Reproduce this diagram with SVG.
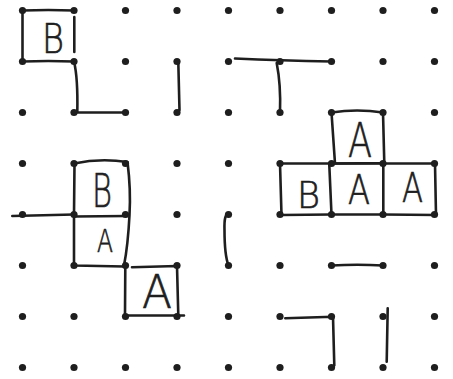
<svg xmlns="http://www.w3.org/2000/svg" width="453" height="379" viewBox="0 0 453 379">
<style>
.ln{fill:none;stroke:#1e1e1e;stroke-width:2.6;stroke-linecap:round;stroke-linejoin:round}
.dot{fill:#1e1e1e}
.lt{font-family:"DejaVu Sans","Liberation Sans",Arial,sans-serif;font-weight:200;fill:#1e1e1e;stroke:#1e1e1e;stroke-width:0.7;text-anchor:start}
</style>
<defs>
<circle id="d" r="3.6" class="dot"/>
</defs>
<g id="connectors">
<path class="ln" d="M22.5,10.5 Q48,9.5 74,10.5"/>
<path class="ln" d="M22.5,10.5 L22.5,61.5"/>
<path class="ln" d="M22.5,61.5 Q48,60.5 74,61.5"/>
<path class="ln" d="M74.3,17 L74.3,52"/>
<path class="ln" d="M74,61.5 Q78,78 77.3,112.5 L125.5,112.5"/>
<path class="ln" d="M178.3,62 L179.5,110 L177,112.5"/>
<path class="ln" d="M235,58.5 Q280,60.5 331.5,61.5"/>
<path class="ln" d="M276.7,63 Q281,85 280,112.5"/>
<path class="ln" d="M331.5,112.5 Q357,108.5 383,112.5 L384.3,163 L335,163.5 L331.5,112.5"/>
<path class="ln" d="M280,163.5 L435,163.5 L436,215 L383,214.5 L331.5,214.5 L281.5,215 L280,163.5"/>
<path class="ln" d="M329.3,165 L331.5,214.5"/>
<path class="ln" d="M383.3,162 L383.3,214.5"/>
<path class="ln" d="M12.3,216 L74,214.5"/>
<path class="ln" d="M74,163.5 Q100,158 127.5,162 Q131,190 129.5,215 Q128,245 124,265.5"/>
<path class="ln" d="M74.5,163.5 L74,214.5 L74,265.5 L124,266.5"/>
<path class="ln" d="M74,216.5 L127,216"/>
<path class="ln" d="M125.3,266 L125,315.5 L184,315.5"/>
<path class="ln" d="M132,267.3 L177,266 L178.3,315.5"/>
<path class="ln" d="M228.5,214.5 Q224,213 224.5,230 Q224.5,255 228.5,265.5"/>
<path class="ln" d="M331.5,265.5 Q357,264 383,265.5"/>
<path class="ln" d="M285.3,318.3 L333,316.8 L334.3,365.5 L331.5,367.5"/>
<path class="ln" d="M387.7,308.3 L386.7,361.7"/>
</g>
<g id="dots">
<g id="row0"><use href="#d" x="22.5" y="10.5"/><use href="#d" x="74" y="10.5"/><use href="#d" x="125.5" y="10.5"/><use href="#d" x="177" y="10.5"/><use href="#d" x="228.5" y="10.5"/><use href="#d" x="280" y="10.5"/><use href="#d" x="331.5" y="10.5"/><use href="#d" x="383" y="10.5"/><use href="#d" x="434.5" y="10.5"/></g>
<g id="row1"><use href="#d" x="22.5" y="61.5"/><use href="#d" x="74" y="61.5"/><use href="#d" x="125.5" y="61.5"/><use href="#d" x="177" y="61.5"/><use href="#d" x="228.5" y="61.5"/><use href="#d" x="280" y="61.5"/><use href="#d" x="331.5" y="61.5"/><use href="#d" x="383" y="61.5"/><use href="#d" x="434.5" y="61.5"/></g>
<g id="row2"><use href="#d" x="22.5" y="112.5"/><use href="#d" x="74" y="112.5"/><use href="#d" x="125.5" y="112.5"/><use href="#d" x="177" y="112.5"/><use href="#d" x="228.5" y="112.5"/><use href="#d" x="280" y="112.5"/><use href="#d" x="331.5" y="112.5"/><use href="#d" x="383" y="112.5"/><use href="#d" x="434.5" y="112.5"/></g>
<g id="row3"><use href="#d" x="22.5" y="163.5"/><use href="#d" x="74" y="163.5"/><use href="#d" x="125.5" y="163.5"/><use href="#d" x="177" y="163.5"/><use href="#d" x="228.5" y="163.5"/><use href="#d" x="280" y="163.5"/><use href="#d" x="331.5" y="163.5"/><use href="#d" x="383" y="163.5"/><use href="#d" x="434.5" y="163.5"/></g>
<g id="row4"><use href="#d" x="22.5" y="214.5"/><use href="#d" x="74" y="214.5"/><use href="#d" x="125.5" y="214.5"/><use href="#d" x="177" y="214.5"/><use href="#d" x="228.5" y="214.5"/><use href="#d" x="280" y="214.5"/><use href="#d" x="331.5" y="214.5"/><use href="#d" x="383" y="214.5"/><use href="#d" x="434.5" y="214.5"/></g>
<g id="row5"><use href="#d" x="22.5" y="265.5"/><use href="#d" x="74" y="265.5"/><use href="#d" x="125.5" y="265.5"/><use href="#d" x="177" y="265.5"/><use href="#d" x="228.5" y="265.5"/><use href="#d" x="280" y="265.5"/><use href="#d" x="331.5" y="265.5"/><use href="#d" x="383" y="265.5"/><use href="#d" x="434.5" y="265.5"/></g>
<g id="row6"><use href="#d" x="22.5" y="316.5"/><use href="#d" x="74" y="316.5"/><use href="#d" x="125.5" y="316.5"/><use href="#d" x="177" y="316.5"/><use href="#d" x="228.5" y="316.5"/><use href="#d" x="280" y="316.5"/><use href="#d" x="331.5" y="316.5"/><use href="#d" x="383" y="316.5"/><use href="#d" x="434.5" y="316.5"/></g>
<g id="row7"><use href="#d" x="22.5" y="367.5"/><use href="#d" x="74" y="367.5"/><use href="#d" x="125.5" y="367.5"/><use href="#d" x="177" y="367.5"/><use href="#d" x="228.5" y="367.5"/><use href="#d" x="280" y="367.5"/><use href="#d" x="331.5" y="367.5"/><use href="#d" x="383" y="367.5"/><use href="#d" x="434.5" y="367.5"/></g>
</g>
<g id="node-B1"><text class="lt" x="42" y="53" font-size="40" textLength="22" lengthAdjust="spacingAndGlyphs">B</text></g>
<g id="node-B2"><text class="lt" x="92" y="207" font-size="46" textLength="20" lengthAdjust="spacingAndGlyphs">B</text></g>
<g id="node-A1"><text class="lt" x="97" y="252" font-size="32" textLength="16" lengthAdjust="spacingAndGlyphs">A</text></g>
<g id="node-A2"><text class="lt" x="142" y="308" font-size="46" textLength="30" lengthAdjust="spacingAndGlyphs">A</text></g>
<g id="node-A3"><text class="lt" x="348" y="157" font-size="48" textLength="24" lengthAdjust="spacingAndGlyphs">A</text></g>
<g id="node-B3"><text class="lt" x="297" y="208" font-size="38" textLength="23" lengthAdjust="spacingAndGlyphs">B</text></g>
<g id="node-A4"><text class="lt" x="348" y="204" font-size="40" textLength="22" lengthAdjust="spacingAndGlyphs">A</text></g>
<g id="node-A5"><text class="lt" x="402" y="202" font-size="40" textLength="21" lengthAdjust="spacingAndGlyphs">A</text></g>
</svg>
